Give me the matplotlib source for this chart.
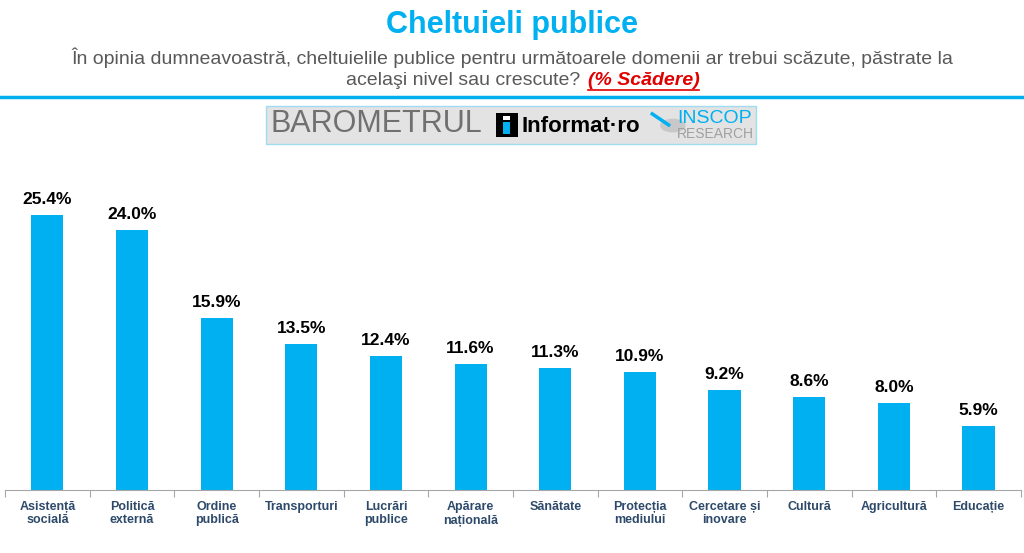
import matplotlib.pyplot as plt
from matplotlib.patches import Rectangle, Circle
from matplotlib.lines import Line2D

plt.rcParams['font.family'] = ['Liberation Sans', 'DejaVu Sans']

# date
categorii = ["Asistență\nsocială", "Politică\nexternă", "Ordine\npublică", "Transporturi",
             "Lucrări\npublice", "Apărare\nnațională", "Sănătate", "Protecția\nmediului",
             "Cercetare și\ninovare", "Cultură", "Agricultură", "Educație"]
valori = [25.4, 24.0, 15.9, 13.5, 12.4, 11.6, 11.3, 10.9, 9.2, 8.6, 8.0, 5.9]

albastru = "#00b0f0"

fig = plt.figure(figsize=(10.24, 5.53), dpi=100)
ax = fig.add_axes([0.0049, 0.1139, 0.992, 0.5967])

x = range(len(valori))
ax.bar(x, valori, width=0.38, color=albastru)
for i, v in zip(x, valori):
    ax.text(i, v + 0.75, "{:.1f}%".format(v), ha="center", va="bottom",
            fontsize=12.5, fontweight="bold", color="black")

ax.set_xlim(-0.5, len(valori) - 0.5)
ax.set_ylim(0, 30.47)
ax.set_yticks([])
for s in ["top", "right", "left"]:
    ax.spines[s].set_visible(False)
ax.spines["bottom"].set_color("#a6a6a6")
# liniute intre categorii
ax.set_xticks([i + 0.5 for i in range(-1, len(valori))])
ax.set_xticklabels([])
ax.tick_params(axis="x", length=5, color="#a6a6a6")
ax.set_xticks(list(x), minor=True)
ax.set_xticklabels(categorii, minor=True, fontsize=9, fontweight="bold",
                   color="#2e4a6b", linespacing=1.15)
ax.tick_params(axis="x", which="minor", length=0, pad=8)

# titlu
fig.text(0.5, 0.955, "Cheltuieli publice", ha="center", va="center",
         fontsize=22, fontweight="bold", color=albastru)
fig.text(0.5, 0.896, "În opinia dumneavoastră, cheltuielile publice pentru următoarele domenii ar trebui scăzute, păstrate la",
         ha="center", va="center", fontsize=14, color="#595959")
fig.text(0.572, 0.855, "acelaşi nivel sau crescute? ", ha="right", va="center",
         fontsize=14, color="#595959")
fig.text(0.574, 0.855, "(% Scădere)", ha="left", va="center",
         fontsize=14, color="#e00000", fontweight="bold", fontstyle="italic")
fig.lines.append(Line2D([0.574, 0.683], [0.838, 0.838], color="#e00000",
                        lw=1.2, transform=fig.transFigure))

fig.lines.append(Line2D([0, 1], [0.825, 0.825], color=albastru, lw=2.5,
                        transform=fig.transFigure))

# logo
fig.patches.append(Rectangle((0.26, 0.74), 0.478, 0.069, transform=fig.transFigure,
                             facecolor="#e3e3e3", edgecolor="#9fdcf2", lw=1))
fig.text(0.264, 0.775, "BAROMETRUL", ha="left", va="center", fontsize=22,
         color="#707070")
fig.patches.append(Rectangle((0.484, 0.753), 0.022, 0.042, transform=fig.transFigure,
                             facecolor="black"))
fig.patches.append(Rectangle((0.4915, 0.757), 0.007, 0.022, transform=fig.transFigure,
                             facecolor=albastru))
fig.patches.append(Rectangle((0.4915, 0.783), 0.007, 0.007, transform=fig.transFigure,
                             facecolor="white"))
fig.text(0.509, 0.772, "Informat·ro", ha="left", va="center", fontsize=16,
         fontweight="bold", color="black")
fig.patches.append(Circle((0.657, 0.773), 0.0125, transform=fig.transFigure,
                          facecolor="#c8c8c8", edgecolor="none"))
fig.lines.append(Line2D([0.637, 0.653], [0.794, 0.774], color=albastru, lw=2.5,
                        transform=fig.transFigure))
fig.text(0.661, 0.786, "INSCOP", ha="left", va="center", fontsize=14,
         color=albastru)
fig.text(0.661, 0.757, "RESEARCH", ha="left", va="center", fontsize=10,
         color="#a0a0a0")

fig.savefig("out.png", dpi=100, facecolor="white")
